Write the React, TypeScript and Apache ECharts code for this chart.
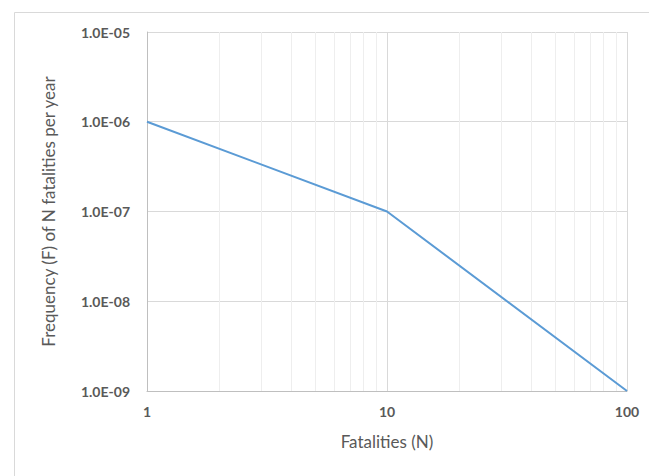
import React, { useEffect, useRef } from "react";
import * as echarts from "echarts";

// F-N criterion line: frequency of N or more fatalities per year
const fatalities = [1, 10, 100];
const frequency = [1e-6, 1e-7, 1e-9];

// Minor log gridlines on the fatalities axis
const minorGridX = [2, 3, 4, 5, 6, 7, 8, 9, 20, 30, 40, 50, 60, 70, 80, 90];

const xTitle = "Fatalities (N)";
const yTitle = "Frequency (F) of N fatalities per year";

const FONT = "Lato, 'Open Sans', sans-serif";

function sci(v: number): string {
  const e = Math.round(Math.log10(v));
  const sign = e < 0 ? "-" : "+";
  const abs = Math.abs(e);
  return "1.0E" + sign + (abs < 10 ? "0" + abs : String(abs));
}

export default function App() {
  const ref = useRef<HTMLDivElement>(null);

  useEffect(() => {
    if (!ref.current) return;
    const chart = echarts.init(ref.current, undefined, { renderer: "svg" });
    chart.setOption({
      animation: false,
      backgroundColor: "#ffffff",
      graphic: [
        {
          type: "rect",
          left: 12,
          top: 10,
          shape: { width: 700, height: 600 },
          style: { fill: "none", stroke: "#d9d9d9", lineWidth: 1 },
          silent: true,
          z: -1,
        },
      ],
      grid: { left: 147, right: 22, top: 32, bottom: 85, containLabel: false },
      xAxis: {
        type: "log",
        logBase: 10,
        min: 1,
        max: 100,
        name: xTitle,
        nameLocation: "middle",
        nameGap: 42,
        nameTextStyle: { color: "#595959", fontSize: 17, fontFamily: FONT },
        axisLine: { show: true, lineStyle: { color: "#bfbfbf", width: 1 } },
        axisTick: { show: false },
        axisLabel: {
          color: "#595959",
          fontSize: 14,
          fontWeight: "bold",
          fontFamily: FONT,
          margin: 13,
          formatter: (v: number) => String(Math.round(v)),
        },
        splitLine: { show: true, lineStyle: { color: "#d9d9d9", width: 1 } },
      },
      yAxis: {
        type: "log",
        logBase: 10,
        min: 1e-9,
        max: 1e-5,
        name: yTitle,
        nameLocation: "middle",
        nameGap: 90,
        nameRotate: 90,
        nameTextStyle: { color: "#595959", fontSize: 17, fontFamily: FONT },
        axisLine: { show: true, lineStyle: { color: "#bfbfbf", width: 1 } },
        axisTick: { show: false },
        axisLabel: {
          color: "#595959",
          fontSize: 14,
          fontWeight: "bold",
          fontFamily: FONT,
          margin: 17,
          formatter: (v: number) => sci(v),
        },
        splitLine: { show: true, lineStyle: { color: "#d9d9d9", width: 1 } },
      },
      series: [
        {
          type: "line",
          data: fatalities.map((n, i) => [n, frequency[i]]),
          symbol: "none",
          lineStyle: { color: "#5b9bd5", width: 2 },
          z: 3,
          markLine: {
            silent: true,
            symbol: "none",
            label: { show: false },
            lineStyle: { color: "#eeeeee", width: 1, type: "solid" },
            data: minorGridX.map((x) => ({ xAxis: x })),
            z: 1,
          },
        },
      ],
    });
    return () => chart.dispose();
  }, []);

  return <div ref={ref} style={{ width: 649, height: 476, position: "absolute", left: 0, top: 0 }} />;
}
